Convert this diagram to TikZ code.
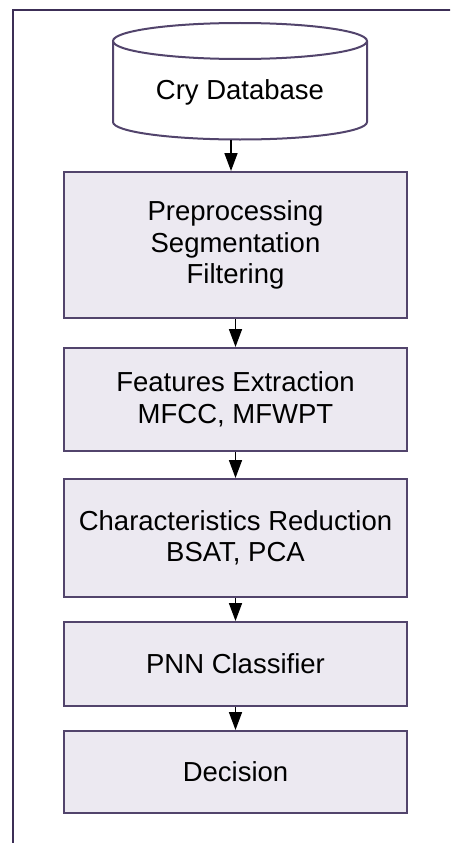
\documentclass[tikz,border=0pt]{standalone}
\usepackage{fontspec}
\setmainfont{Liberation Sans}
\usetikzlibrary{arrows.meta}
\definecolor{edgepurple}{RGB}{82,68,108}
\definecolor{framepurple}{RGB}{60,46,86}
\definecolor{boxfill}{RGB}{236,233,241}
\tikzset{
  stepbox/.style={draw=edgepurple, line width=2pt, fill=boxfill,
    minimum width=343pt, inner sep=0pt, align=center,
    font=\fontsize{27.5}{31.5}\selectfont},
  label text/.style={inner sep=0pt, align=center,
    font=\fontsize{27.5}{31.5}\selectfont},
  flow/.style={draw=black, line width=1.7pt,
    -{Triangle[length=18pt, width=13pt]}},
}
\begin{document}
\begin{tikzpicture}[x=1pt, y=-1pt]
  \useasboundingbox (0,0) rectangle (450,843);
  \clip (0,0) rectangle (450,843);

  % outer frame, running off the page at the right and bottom
  \draw[framepurple, line width=2.8pt] (13,860) -- (13,10) -- (470,10);

  % database cylinder (y grows downward, so angle 90 is the lowest point)
  \fill[white] (113,41) -- (113,122)
    arc[start angle=180, end angle=0, x radius=127, y radius=17.5]
    -- (367,41) arc[start angle=0, end angle=-180, x radius=127, y radius=18];
  \draw[edgepurple, line width=2pt] (113,41) -- (113,122)
    arc[start angle=180, end angle=0, x radius=127, y radius=17.5]
    -- (367,41);
  \draw[edgepurple, line width=2pt] (240,41) ellipse [x radius=127, y radius=18];
  \node[label text, minimum width=254pt, minimum height=116.5pt] (db) at (240,81.25) {};
  \node[label text] (dbtext) at (240,92) {Cry Database};

  % processing steps
  \node[stepbox, minimum height=146pt] (b1) at (235.5,245)
    {Preprocessing\\Segmentation\\Filtering};
  \node[stepbox, minimum height=103pt] (b2) at (235.5,399.5)
    {Features Extraction\\MFCC, MFWPT};
  \node[stepbox, minimum height=118pt] (b3) at (235.5,538)
    {Characteristics Reduction\\BSAT, PCA};
  \node[stepbox, minimum height=84pt] (b4) at (235.5,664)
    {PNN Classifier};
  \node[stepbox, minimum height=82pt] (b5) at (235.5,772)
    {Decision};

  % connectors
  \draw[flow] ([xshift=-9pt]db.south) -- ([xshift=-4.5pt]b1.north);
  \draw[flow] (b1.south) -- (b2.north);
  \draw[flow] (b2.south) -- (b3.north);
  \draw[flow] (b3.south) -- (b4.north);
  \draw[flow] (b4.south) -- (b5.north);
\end{tikzpicture}
\end{document}
